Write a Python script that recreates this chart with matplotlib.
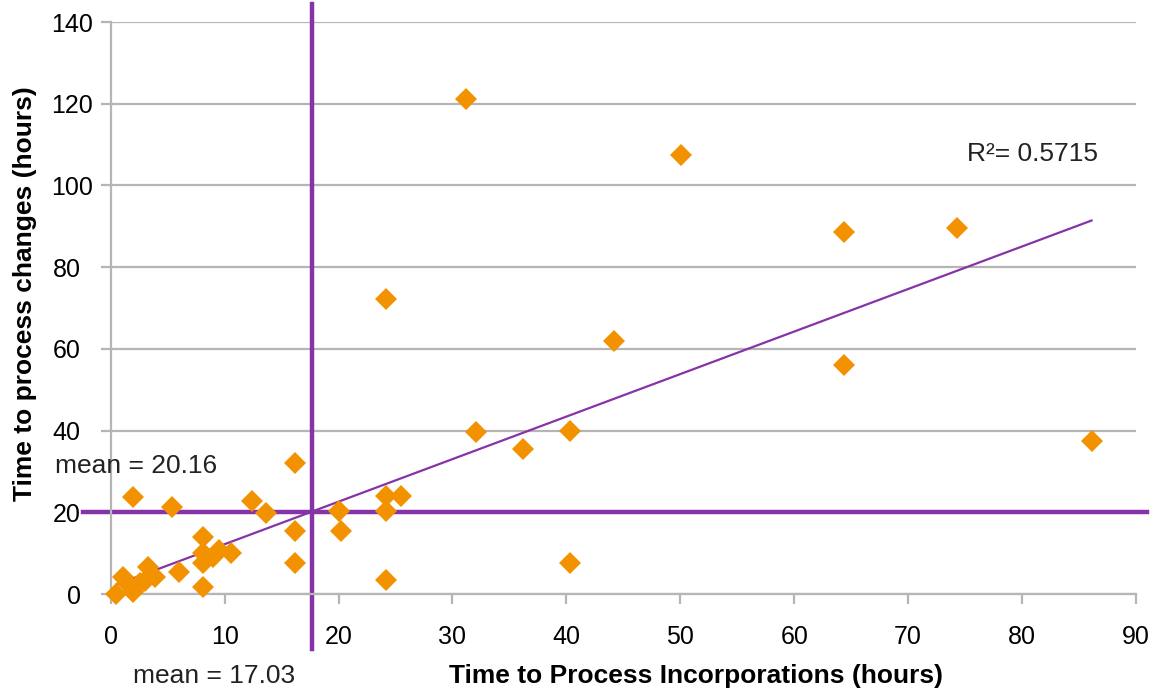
import numpy as np
import matplotlib
matplotlib.use("Agg")
import matplotlib.pyplot as plt
from matplotlib.transforms import ScaledTranslation

# ---- data ----
incorp_hours = [31.2, 50.1, 64.4, 74.3, 24.2, 44.2, 64.4, 86.1, 32.1, 40.3,
                36.2, 16.2, 2.0, 5.4, 12.4, 13.6, 24.2, 25.5, 24.2, 20.0,
                20.2, 16.2, 16.2, 24.2, 40.3, 8.1, 8.1, 9.5, 10.6, 8.1,
                9.0, 6.0, 3.3, 3.9, 1.1, 2.0, 8.1, 0.5, 2.6, 1.4, 3.0, 2.2]
change_hours = [121.1, 107.4, 88.5, 89.7, 72.3, 62.0, 56.1, 37.5, 39.7, 40.0,
                35.5, 32.0, 23.7, 21.2, 22.8, 19.9, 24.0, 24.0, 20.3, 20.2,
                15.3, 15.3, 7.7, 3.4, 7.6, 14.0, 10.0, 10.8, 10.1, 7.7,
                9.1, 5.5, 6.7, 4.2, 4.2, 0.6, 1.8, 0.0, 2.6, 2.6, 3.2, 1.5]

trend_slope = 1.041
trend_intercept = 1.78
r_squared_label = "R\u00b2= 0.5715"

mean_change = 20.16
mean_incorp_label = 17.03
mean_incorp_line = 17.7   # where the vertical mean line sits in the reference

x_ticks = [0, 10, 20, 30, 40, 50, 60, 70, 80, 90]
y_ticks = [0, 20, 40, 60, 80, 100, 120, 140]

x_label = "Time to Process Incorporations (hours)"
y_label = "Time to process changes (hours)"

# ---- style ----
ORANGE = "#F39200"
PURPLE = "#8733A8"
GRID = "#B5B5B5"
plt.rcParams["font.family"] = ["Liberation Sans", "DejaVu Sans"]

W, H = 1159, 693
fig = plt.figure(figsize=(W / 100, H / 100), dpi=100)
ax_left, ax_right = 110.7 / W, 1136 / W
ax_bottom, ax_top = 1 - 594 / H, 1 - 22 / H
ax = fig.add_axes([ax_left, ax_bottom, ax_right - ax_left, ax_top - ax_bottom])

ax.set_xlim(0, 90)
ax.set_ylim(0, 140)
ax.set_xticks(x_ticks)
ax.set_yticks(y_ticks)
ax.set_xticklabels([str(v) for v in x_ticks])
ax.set_yticklabels([str(v) for v in y_ticks])

for s in ["top", "right"]:
    ax.spines[s].set_visible(False)
for s in ["left", "bottom"]:
    ax.spines[s].set_color(GRID)
    ax.spines[s].set_linewidth(1.6)

ax.yaxis.grid(True, color=GRID, linewidth=1.6)
ax.xaxis.grid(False)
ax.set_axisbelow(True)
ax.tick_params(axis="both", color=GRID, width=1.6, length=7.2,
               labelsize=18, labelcolor="black")
ax.tick_params(axis="y", pad=14.5)
ax.tick_params(axis="x", pad=15)

# three-digit y labels sit closer to the axis in the reference
for lab in ax.get_yticklabels():
    if len(lab.get_text()) == 3:
        lab.set_transform(lab.get_transform() +
                          ScaledTranslation(12 / 100, 0, fig.dpi_scale_trans))

# trend line
xs = np.array([min(incorp_hours), max(incorp_hours)])
ax.plot(xs, trend_slope * xs + trend_intercept, color=PURPLE, linewidth=1.6,
        zorder=3)

# mean lines (extend beyond the axes like the reference)
ax.plot([-2.45, 91.0], [mean_change, mean_change], color=PURPLE,
        linewidth=3.2, clip_on=False, zorder=2)
ax.plot([mean_incorp_line, mean_incorp_line], [-13.5, 144.5], color=PURPLE,
        linewidth=3.2, clip_on=False, zorder=2)

# points
ax.plot(incorp_hours, change_hours, linestyle="none", marker="D",
        markersize=11.2, color=ORANGE, markeredgewidth=0, clip_on=False,
        zorder=4)

# annotations
ax.text(-4.9, 31.4, f"mean = {mean_change:.2f}", fontsize=19,
        ha="left", va="center", color="#222222")
ax.text(9.1, -20.0, f"mean = {mean_incorp_label:.2f}", fontsize=19,
        ha="center", va="center", color="#222222", clip_on=False)
ax.text(80.9, 107.6, r_squared_label, fontsize=19, ha="center",
        va="center", color="#222222")

fig.text(696 / W, 1 - 676 / H, x_label, fontsize=19, fontweight="bold",
         ha="center", va="center")
fig.text(25 / W, 1 - 294 / H, y_label, fontsize=19, fontweight="bold",
         ha="center", va="center", rotation=90)

fig.savefig("out.png", dpi=100)
